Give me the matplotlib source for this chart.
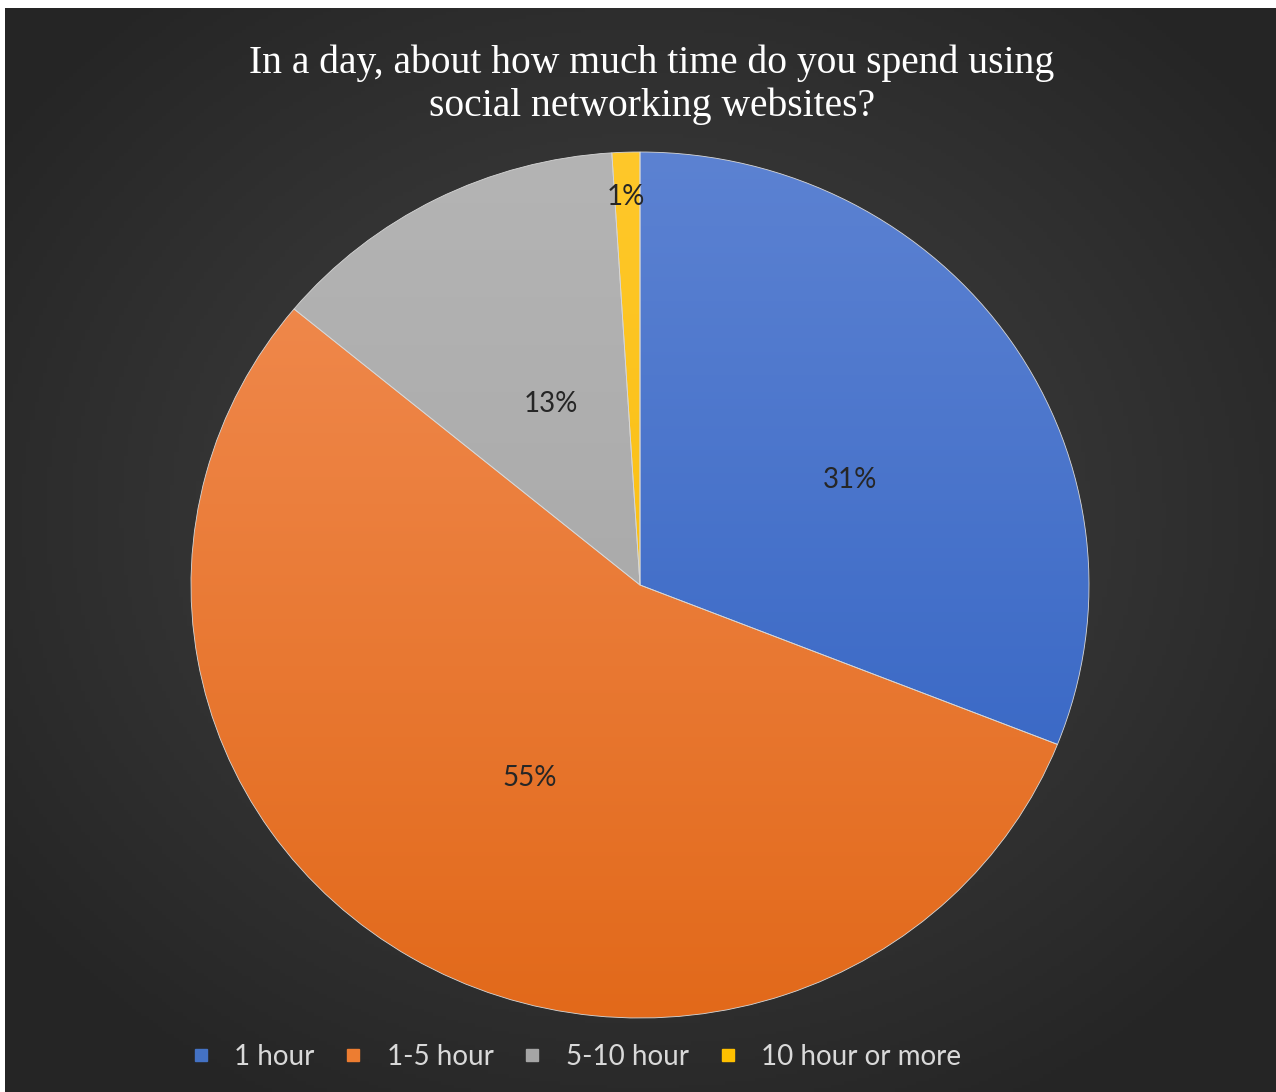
import numpy as np
import matplotlib
matplotlib.use("Agg")
import matplotlib.pyplot as plt
from matplotlib.colors import LinearSegmentedColormap

# survey answers, share of respondents (%)
categories = ["1 hour", "1-5 hour", "5-10 hour", "10 hour or more"]
shares = [31, 55, 13, 1]
# (top colour, bottom colour) of each slice's vertical gradient
slice_colors = [
    ("#5c82d2", "#2d5fc1"),
    ("#f28e55", "#e2691a"),
    ("#b4b4b4", "#a2a2a2"),
    ("#ffc82a", "#f5b800"),
]
legend_colors = ["#4472c4", "#ed7d31", "#a5a5a5", "#ffc000"]
# where Excel put the percentage labels (pie units, radius 1)
label_xy = [(0.468, 0.243), (-0.245, -0.446), (-0.198, 0.418), (-0.031, 0.896)]
title = "In a day, about how much time do you spend using\nsocial networking websites?"

W, H = 1276, 1092
fig = plt.figure(figsize=(W / 100, H / 100), dpi=100, facecolor="white")

# dark chart area with a soft radial glow, white strip on top/left
bg = fig.add_axes([5 / W, 0, 1 - 5 / W, 1 - 8 / H])
yy, xx = np.mgrid[0:300, 0:300]
cx, cy = 150, 140
d = np.hypot((xx - cx) / 150, (yy - cy) / 150)
glow = np.clip(1 - d / 1.25, 0, 1)
bg_cmap = LinearSegmentedColormap.from_list("bg", ["#252525", "#454545"])
bg.imshow(glow, cmap=bg_cmap, aspect="auto", extent=(0, 1, 0, 1), origin="upper")
bg.set_axis_off()

# pie: centre (640, 585) px, radii 449 x 433 px
rx, ry, pcx, pcy = 449, 433, 640, 585
ax = fig.add_axes([(pcx - rx) / W, (H - pcy - ry) / H, 2 * rx / W, 2 * ry / H])
wedges, _ = ax.pie(shares, startangle=90, counterclock=False, radius=1,
                   colors=[c[0] for c in slice_colors],
                   wedgeprops=dict(linewidth=0.6, edgecolor="#d8d8d8"))
ax.set_aspect("auto")
ax.set_xlim(-1, 1)
ax.set_ylim(-1, 1)

ramp = np.linspace(0, 1, 256).reshape(-1, 1)
for w, (top, bottom) in zip(wedges, slice_colors):
    cm = LinearSegmentedColormap.from_list("s", [top, bottom])
    im = ax.imshow(ramp, cmap=cm, extent=(-1, 1, -1, 1), aspect="auto",
                   origin="upper", zorder=w.get_zorder() + 0.1)
    im.set_clip_path(w)
    w.set_zorder(w.get_zorder() + 0.2)
    w.set_facecolor("none")

for (x, y), v in zip(label_xy, shares):
    ax.text(x, y, f"{v}%", ha="center", va="center", fontsize=20,
            color="#262626", family="Lato", zorder=5)

fig.text(652 / W, 1 - 85 / H, title, ha="center", va="center", color="white",
         fontsize=28.5, family="Liberation Serif", linespacing=1.18)

handles = [plt.Line2D([], [], marker="s", linestyle="", markersize=8,
                      color=c, label=l) for c, l in zip(legend_colors, categories)]
leg = fig.legend(handles=handles, loc="center", ncol=4,
                 bbox_to_anchor=(578 / W, 1 - 1057 / H), frameon=False,
                 prop=dict(family="Lato", size=20), handlelength=0.4,
                 handletextpad=1.0, columnspacing=1.2)
for t in leg.get_texts():
    t.set_color("#d9d9d9")

fig.savefig("out.png", dpi=100, facecolor="white")
